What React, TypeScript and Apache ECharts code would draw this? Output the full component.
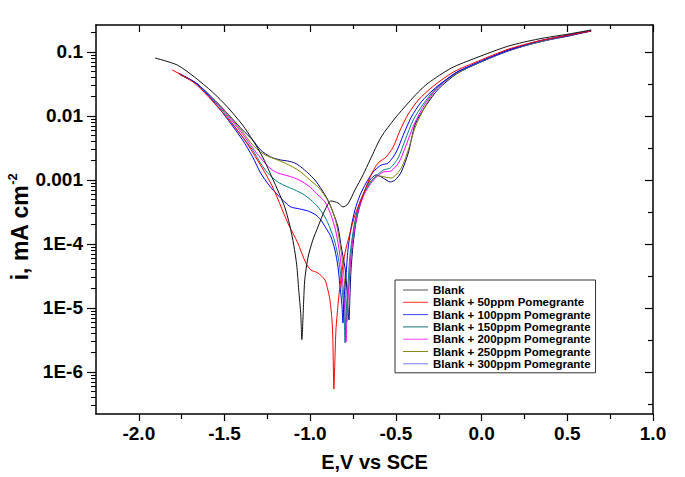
import React, { useEffect, useRef } from 'react';
import * as echarts from 'echarts';

const FONT = '"Liberation Sans", Arial, Helvetica, sans-serif';

const SERIES_NAMES = [
  'Blank',
  'Blank + 50ppm Pomegrante',
  'Blank + 100ppm Pomegrante',
  'Blank + 150ppm Pomegrante',
  'Blank + 200ppm Pomegrante',
  'Blank + 250ppm Pomegrante',
  'Blank + 300ppm Pomegrante',
];
const LINE_COLORS = ['#111111', '#ff0000', '#0000ff', '#008080', '#ff00ff', '#808000', '#000080'];
const LEGEND_COLORS = ['#555555', '#ff3030', '#4040ff', '#107070', '#ff40ff', '#8a8a20', '#7878ff'];

const E_BLANK = [-1.905, -1.776, -1.676, -1.571, -1.483, -1.395, -1.336, -1.278, -1.237, -1.19, -1.149, -1.12, -1.096, -1.079, -1.067, -1.055, -1.049, -1.038, -1.032, -1.014, -0.985, -0.955, -0.914, -0.879, -0.838, -0.809, -0.78, -0.739, -0.692, -0.651, -0.586, -0.504, -0.428, -0.369, -0.311, -0.176, -0.035, 0.158, 0.334, 0.51, 0.639];
const I_BLANK = [0.0805, 0.0626, 0.0407, 0.0237, 0.0138, 0.00723, 0.00422, 0.00229, 0.00133, 0.000698, 0.000379, 0.000198, 9.6e-5, 4.7e-5, 1.9e-5, 7.8e-6, 3.2e-6, 1.33e-5, 2.74e-5, 6.0e-5, 1.15e-4, 1.84e-4, 3.4e-4, 4.7e-4, 4.37e-4, 3.79e-4, 4.22e-4, 6.98e-4, 1.2e-3, 2.05e-3, 4.69e-3, 9.3e-3, 0.016, 0.0237, 0.0328, 0.0562, 0.0805, 0.124, 0.16, 0.191, 0.221];

const E_50 = [-1.805, -1.676, -1.524, -1.383, -1.231, -1.131, -1.073, -1.026, -0.996, -0.955, -0.914, -0.897, -0.885, -0.873, -0.868, -0.862, -0.856, -0.85, -0.838, -0.827, -0.797, -0.768, -0.739, -0.692, -0.645, -0.604, -0.557, -0.516, -0.475, -0.428, -0.369, -0.281, -0.164, -0.018, 0.158, 0.334, 0.51, 0.639];
const I_50 = [0.0523, 0.0328, 0.0124, 0.00422, 8.98e-4, 2.13e-4, 1.04e-4, 5.05e-5, 3.92e-5, 3.52e-5, 2.74e-5, 1.91e-5, 1.33e-5, 6.49e-6, 3.16e-6, 5.4e-7, 1.54e-6, 4.53e-6, 1.11e-5, 2.13e-5, 7.23e-5, 1.48e-4, 2.84e-4, 5.83e-4, 1.2e-3, 1.84e-3, 2.29e-3, 3.28e-3, 6.04e-3, 0.0107, 0.0178, 0.0294, 0.0487, 0.0723, 0.111, 0.149, 0.184, 0.213];

const E_100 = [-1.77, -1.659, -1.524, -1.395, -1.336, -1.29, -1.237, -1.19, -1.149, -1.114, -1.061, -1.014, -0.967, -0.938, -0.909, -0.879, -0.856, -0.838, -0.827, -0.815, -0.809, -0.803, -0.791, -0.78, -0.762, -0.739, -0.709, -0.674, -0.633, -0.586, -0.545, -0.498, -0.457, -0.41, -0.352, -0.27, -0.152, -0.018, 0.158, 0.334, 0.51, 0.639];
const I_100 = [0.047, 0.0316, 0.0124, 0.00422, 0.00229, 0.00129, 8.06e-4, 5.83e-4, 4.53e-4, 3.79e-4, 3.52e-4, 3.28e-4, 2.84e-4, 2.37e-4, 1.78e-4, 1.29e-4, 8.06e-5, 4.37e-5, 2.29e-5, 1.11e-5, 5.83e-6, 1.33e-5, 3.28e-5, 8.06e-5, 1.78e-4, 3.4e-4, 5.83e-4, 8.98e-4, 1.33e-3, 1.71e-3, 1.84e-3, 2.74e-3, 5.05e-3, 9.64e-3, 0.0166, 0.0274, 0.047, 0.0698, 0.107, 0.149, 0.184, 0.213];

const E_150 = [-1.764, -1.659, -1.524, -1.395, -1.336, -1.29, -1.249, -1.19, -1.131, -1.09, -1.043, -0.996, -0.955, -0.914, -0.885, -0.856, -0.832, -0.815, -0.803, -0.797, -0.791, -0.78, -0.768, -0.75, -0.727, -0.698, -0.662, -0.621, -0.574, -0.533, -0.487, -0.446, -0.399, -0.34, -0.27, -0.152, -0.018, 0.158, 0.334, 0.51, 0.639];
const I_150 = [0.0453, 0.0316, 0.0133, 0.00469, 0.00294, 0.00184, 0.00129, 9.3e-4, 7.78e-4, 6.98e-4, 6.04e-4, 4.87e-4, 3.79e-4, 2.64e-4, 1.78e-4, 1.07e-4, 5.23e-5, 2.13e-5, 8.66e-6, 2.84e-6, 7.78e-6, 2.29e-5, 6.73e-5, 1.54e-4, 3.16e-4, 5.42e-4, 8.06e-4, 1.11e-3, 1.43e-3, 1.54e-3, 2.21e-3, 4.22e-3, 8.66e-3, 0.0154, 0.0264, 0.047, 0.0673, 0.107, 0.143, 0.184, 0.213];

const E_200 = [-1.764, -1.659, -1.524, -1.395, -1.336, -1.29, -1.237, -1.19, -1.131, -1.09, -1.043, -0.996, -0.955, -0.914, -0.879, -0.85, -0.827, -0.809, -0.797, -0.791, -0.786, -0.774, -0.762, -0.744, -0.721, -0.692, -0.657, -0.615, -0.574, -0.528, -0.481, -0.44, -0.393, -0.334, -0.264, -0.152, -0.018, 0.158, 0.334, 0.51, 0.639];
const I_200 = [0.0453, 0.0316, 0.0138, 0.00523, 0.00316, 0.00221, 0.00154, 0.00129, 0.00116, 0.00107, 9.3e-4, 7.5e-4, 5.83e-4, 4.53e-4, 2.84e-4, 1.54e-4, 6.73e-5, 2.29e-5, 7.78e-6, 2.94e-6, 7.78e-6, 2.29e-5, 6.73e-5, 1.54e-4, 3.16e-4, 5.42e-4, 8.06e-4, 1.11e-3, 1.33e-3, 1.38e-3, 1.91e-3, 3.52e-3, 7.5e-3, 0.0149, 0.0264, 0.047, 0.0673, 0.107, 0.143, 0.184, 0.213];

const E_250 = [-1.758, -1.659, -1.524, -1.395, -1.336, -1.29, -1.249, -1.19, -1.149, -1.102, -1.055, -1.002, -0.955, -0.914, -0.879, -0.85, -0.827, -0.809, -0.797, -0.786, -0.78, -0.768, -0.756, -0.739, -0.715, -0.686, -0.651, -0.604, -0.563, -0.528, -0.469, -0.428, -0.387, -0.328, -0.264, -0.152, -0.018, 0.158, 0.334, 0.51, 0.639];
const I_250 = [0.0437, 0.0316, 0.0143, 0.00562, 0.00352, 0.00274, 0.00237, 0.00205, 0.00184, 0.0016, 0.00133, 1.0e-3, 7.78e-4, 5.62e-4, 3.79e-4, 2.21e-4, 1.04e-4, 4.7e-5, 1.91e-5, 6.04e-6, 1.33e-5, 3.92e-5, 9.64e-5, 2.21e-4, 4.06e-4, 6.49e-4, 9.3e-4, 1.16e-3, 1.11e-3, 1.07e-3, 1.54e-3, 2.94e-3, 6.73e-3, 0.0143, 0.0264, 0.0453, 0.0673, 0.107, 0.143, 0.184, 0.213];

const E_300 = [-1.758, -1.659, -1.524, -1.395, -1.336, -1.29, -1.231, -1.172, -1.131, -1.09, -1.055, -1.014, -0.973, -0.932, -0.897, -0.868, -0.838, -0.821, -0.797, -0.786, -0.774, -0.768, -0.762, -0.75, -0.733, -0.709, -0.68, -0.651, -0.615, -0.574, -0.533, -0.504, -0.469, -0.428, -0.387, -0.322, -0.252, -0.147, -0.018, 0.158, 0.334, 0.51, 0.639];
const I_300 = [0.0437, 0.0316, 0.0143, 0.00604, 0.00422, 0.00294, 0.00229, 0.00205, 0.00198, 0.00184, 0.0016, 0.00129, 1.0e-3, 6.98e-4, 4.87e-4, 3.16e-4, 1.84e-4, 9.64e-5, 4.22e-5, 1.91e-5, 6.49e-6, 1.6e-5, 3.92e-5, 9.64e-5, 2.21e-4, 4.06e-4, 6.98e-4, 1.0e-3, 1.2e-3, 1.07e-3, 9.3e-4, 1.0e-3, 1.33e-3, 2.64e-3, 7.5e-3, 0.0149, 0.0264, 0.0453, 0.0673, 0.104, 0.143, 0.178, 0.213];

const E_SETS = [E_BLANK, E_50, E_100, E_150, E_200, E_250, E_300];
const I_SETS = [I_BLANK, I_50, I_100, I_150, I_200, I_250, I_300];

const X_LABEL_VALUES = [-2.0, -1.5, -1.0, -0.5, 0.0, 0.5, 1.0];
const X_MINOR_VALUES = [-1.75, -1.25, -0.75, -0.25, 0.25, 0.75];
const Y_TICK_VALUES = [1e-6, 1e-5, 1e-4, 1e-3, 1e-2, 1e-1];
const Y_TICK_LABELS = ['1E-6', '1E-5', '1E-4', '0.001', '0.01', '0.1'];

const X_MIN = -2.25;
const X_MAX = 1.0;
const Y_MIN = Math.log10(2.2e-7);
const Y_MAX = Math.log10(0.264);

export default function App() {
  const ref = useRef<HTMLDivElement>(null);
  useEffect(() => {
    if (!ref.current) return;
    const chart = echarts.init(ref.current, undefined, { renderer: 'svg' });

    const yMajor = Y_TICK_VALUES.map((v) => Math.log10(v));
    const yMinor: number[] = [];
    for (let d = -7; d <= 0; d++) {
      for (let k = 2; k <= 9; k++) {
        const v = d + Math.log10(k);
        if (v > Y_MIN && v < Y_MAX) yMinor.push(v);
      }
    }
    const yHalf: number[] = [];
    for (let d = -7; d <= 0; d++) {
      const v = d + 0.5;
      if (v > Y_MIN && v < Y_MAX) yHalf.push(v);
    }
    const labelMap: Record<string, string> = {};
    yMajor.forEach((v, i) => (labelMap[v.toFixed(3)] = Y_TICK_LABELS[i]));

    const axisLine = { show: true, onZero: false, lineStyle: { color: '#000', width: 1.5 } };
    const hiddenLine = { show: false, onZero: false };
    const tickStyle = { color: '#000', width: 1.2 };

    const baseX = { type: 'value', min: X_MIN, max: X_MAX, splitLine: { show: false } };
    const baseY = { type: 'value', min: Y_MIN, max: Y_MAX, splitLine: { show: false } };

    const option: any = {
      animation: false,
      backgroundColor: '#fff',
      grid: { left: 96, right: 32, top: 25, bottom: 63, containLabel: false, outerBoundsMode: 'none' },
      legend: {
        left: 395,
        top: 280,
        orient: 'vertical',
        itemWidth: 25,
        itemHeight: 12,
        itemGap: 0.3,
        padding: [4, 5, 3, 8],
        borderColor: '#333',
        borderWidth: 1,
        backgroundColor: '#fff',
        textStyle: { fontSize: 11.5, fontWeight: 'bold', fontFamily: FONT, color: '#000', lineHeight: 12 },
        data: SERIES_NAMES.map((n, i) => ({
          name: n,
          icon: 'path://M0,0 L25,0 L25,1 L0,1 Z',
          itemStyle: { color: LEGEND_COLORS[i] },
        })),
      },
      xAxis: [
        {
          ...baseX,
          position: 'bottom',
          name: 'E,V vs SCE',
          nameLocation: 'middle',
          nameGap: 38,
          nameMoveOverlap: false,
          nameTextStyle: { fontSize: 20, fontWeight: 'bold', fontFamily: FONT, color: '#000' },
          axisLine,
          axisTick: { show: true, inside: false, length: 7, customValues: X_LABEL_VALUES, lineStyle: tickStyle },
          axisLabel: {
            show: true,
            customValues: X_LABEL_VALUES,
            margin: 10,
            fontSize: 19,
            fontWeight: 'bold',
            fontFamily: FONT,
            color: '#000',
            formatter: (v: number) => v.toFixed(1),
          },
        },
        {
          ...baseX,
          position: 'bottom',
          axisLine: hiddenLine,
          axisTick: { show: true, inside: false, length: 5, customValues: X_MINOR_VALUES, lineStyle: tickStyle },
          axisLabel: { show: false },
        },
        {
          ...baseX,
          position: 'top',
          axisLine,
          axisTick: { show: true, inside: true, length: 7, customValues: X_LABEL_VALUES, lineStyle: tickStyle },
          axisLabel: { show: false },
        },
        {
          ...baseX,
          position: 'top',
          axisLine: hiddenLine,
          axisTick: { show: true, inside: true, length: 4, customValues: X_MINOR_VALUES, lineStyle: tickStyle },
          axisLabel: { show: false },
        },
      ],
      yAxis: [
        {
          ...baseY,
          position: 'left',
          name: '{a|i, mA cm}{b|-2}',
          nameLocation: 'middle',
          nameGap: 62,
          nameMoveOverlap: false,
          nameTextStyle: {
            padding: [0, 15, 0, 0],
            rich: {
              a: { fontSize: 23, fontWeight: 'bold', fontFamily: FONT, color: '#000', lineHeight: 28 },
              b: { fontSize: 13, fontWeight: 'bold', fontFamily: FONT, color: '#000', lineHeight: 13, verticalAlign: 'top' },
            },
          },
          axisLine,
          axisTick: { show: true, inside: false, length: 9, customValues: yMajor, lineStyle: tickStyle },
          axisLabel: {
            show: true,
            customValues: yMajor,
            margin: 13,
            fontSize: 19,
            fontWeight: 'bold',
            fontFamily: FONT,
            color: '#000',
            formatter: (v: number) => labelMap[v.toFixed(3)] ?? '',
          },
        },
        {
          ...baseY,
          position: 'left',
          axisLine: hiddenLine,
          axisTick: { show: true, inside: false, length: 5, customValues: yMinor, lineStyle: { color: '#000', width: 1 } },
          axisLabel: { show: false },
        },
        {
          ...baseY,
          position: 'right',
          axisLine,
          axisTick: { show: true, inside: true, length: 8, customValues: yMajor, lineStyle: tickStyle },
          axisLabel: { show: false },
        },
        {
          ...baseY,
          position: 'right',
          axisLine: hiddenLine,
          axisTick: { show: true, inside: true, length: 5, customValues: yHalf, lineStyle: tickStyle },
          axisLabel: { show: false },
        },
      ],
      series: SERIES_NAMES.map((name, s) => ({
        name,
        type: 'line',
        xAxisIndex: 0,
        yAxisIndex: 0,
        symbol: 'none',
        showSymbol: false,
        smooth: 0.25,
        lineStyle: { color: LINE_COLORS[s], width: 1 },
        itemStyle: { color: LINE_COLORS[s] },
        z: 10 - s,
        data: E_SETS[s].map((e, k) => [e, Math.log10(I_SETS[s][k])]),
      })),
    };
    chart.setOption(option);
    return () => chart.dispose();
  }, []);
  return <div ref={ref} style={{ width: 685, height: 477, position: 'absolute', left: 0, top: 0 }} />;
}
